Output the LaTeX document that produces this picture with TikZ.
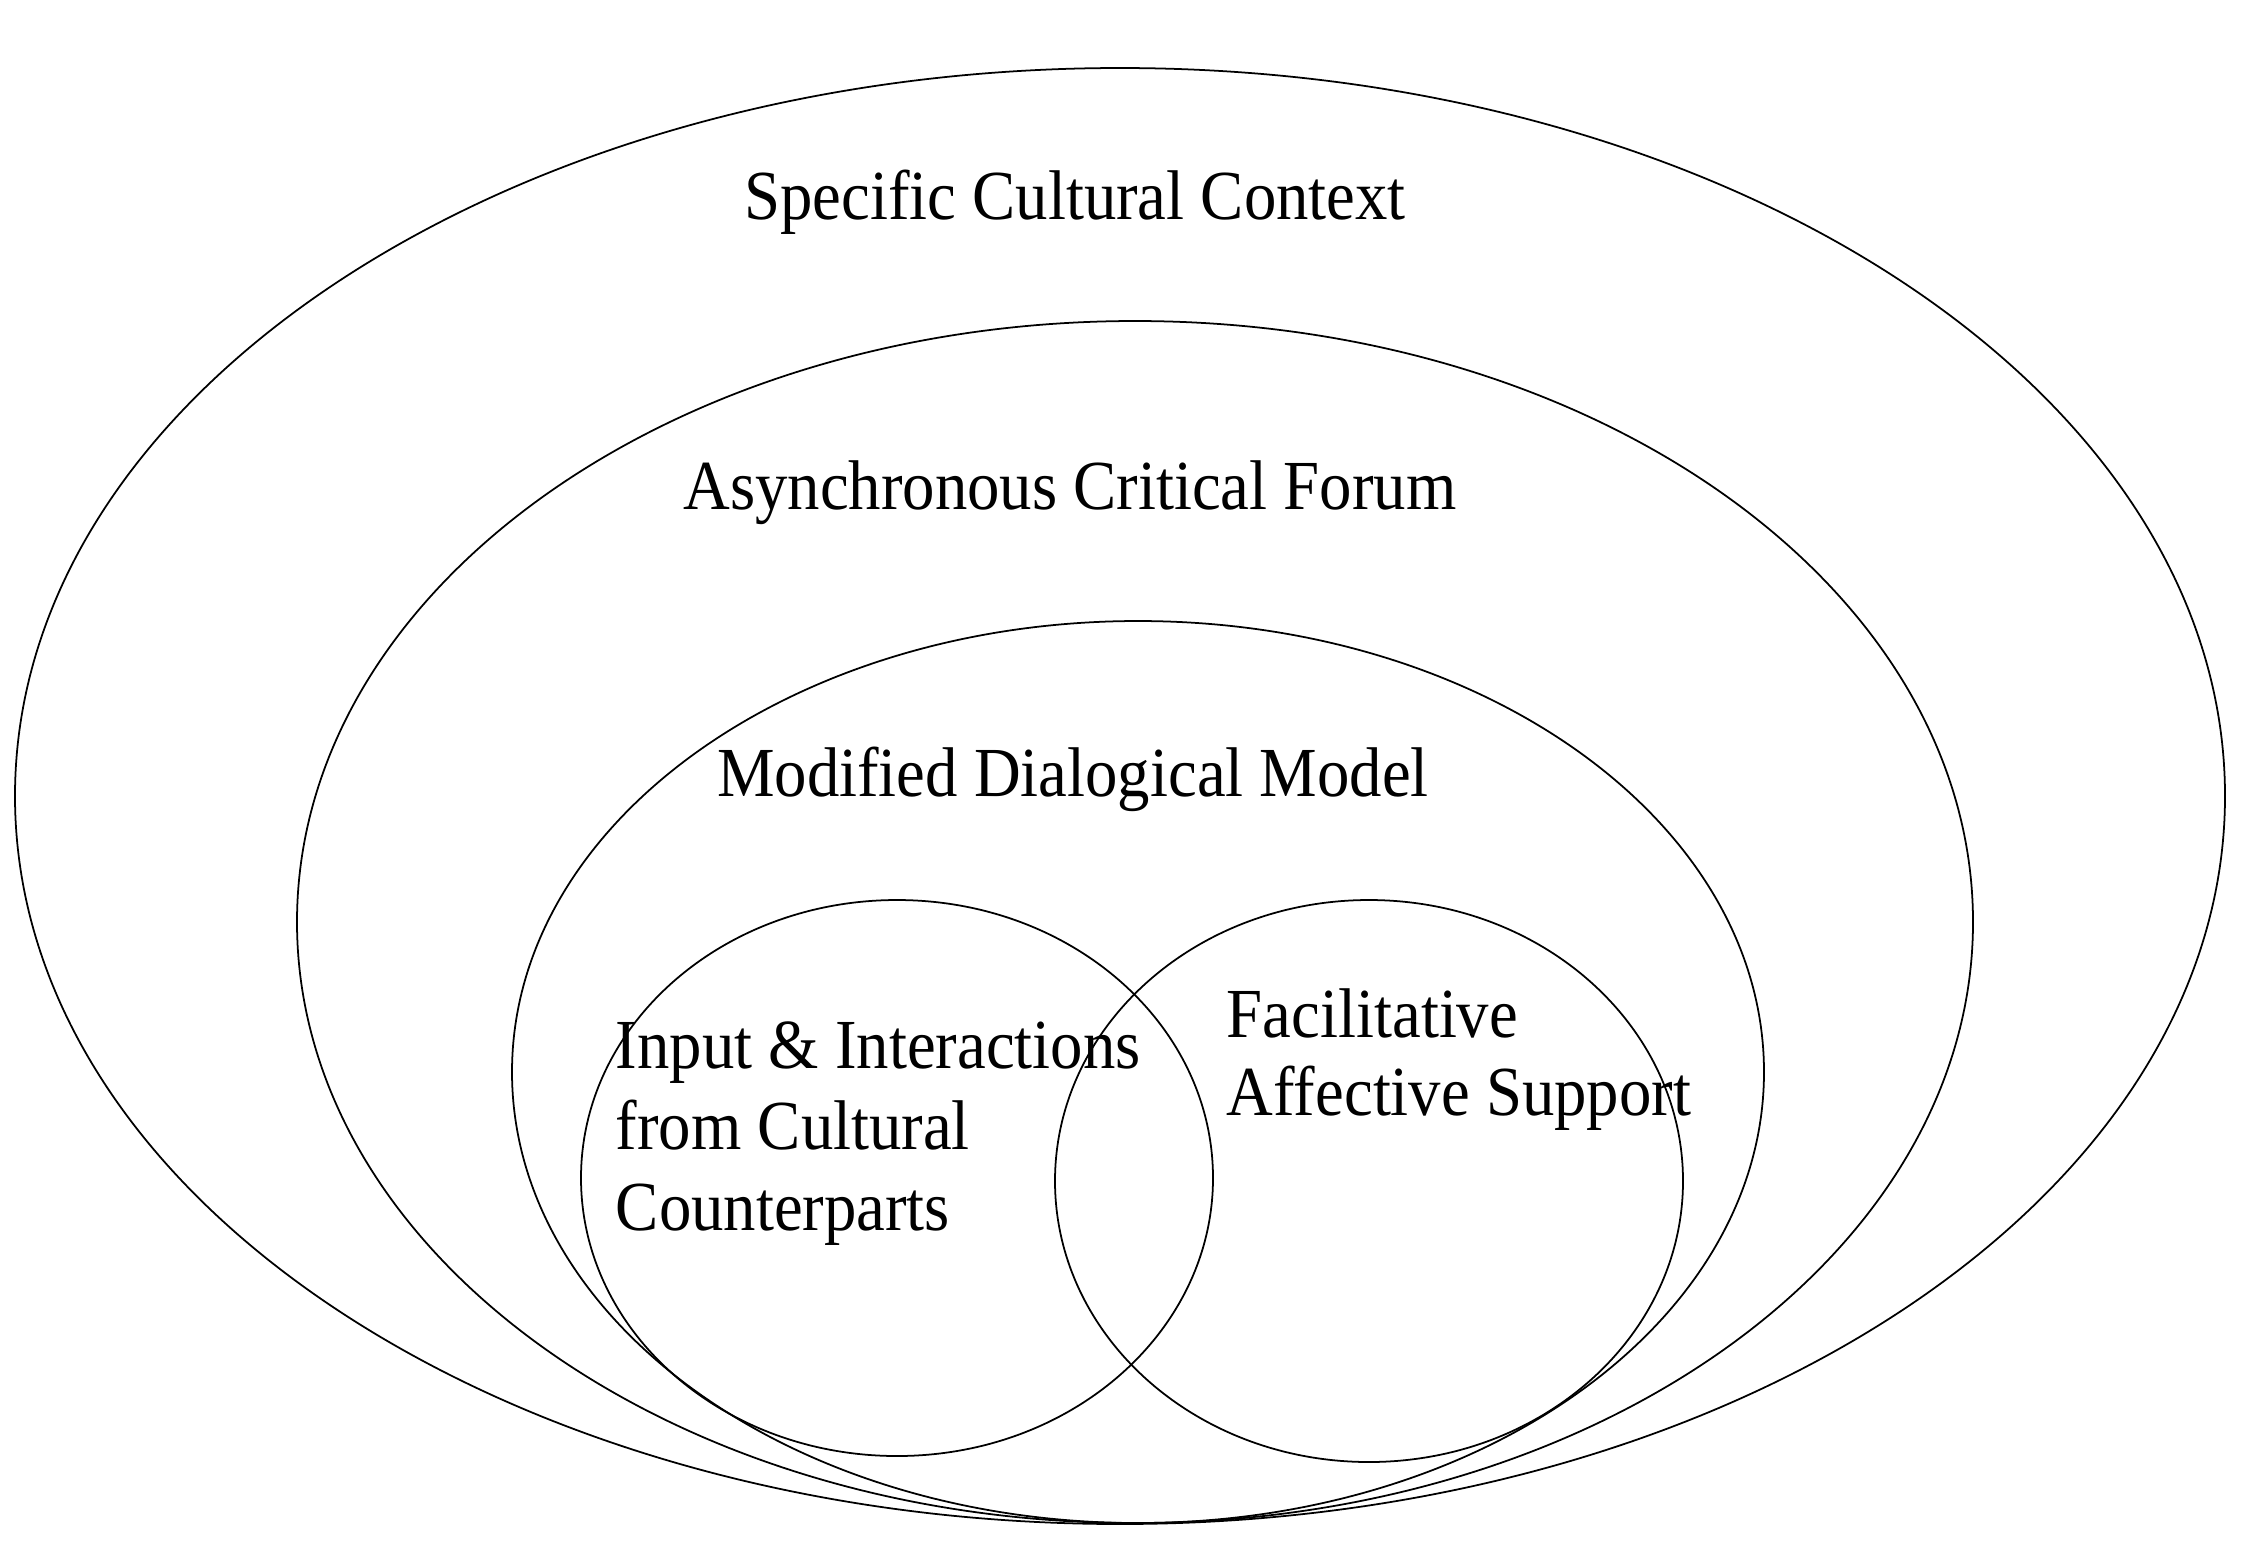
\documentclass[tikz,border=0pt]{standalone}
\usepackage{fontspec}
\setmainfont[FakeStretch=0.92]{Liberation Serif}
\begin{document}
\begin{tikzpicture}[x=0.01cm,y=-0.01cm,line width=0.5pt]
\useasboundingbox (0,0) rectangle (2248,1550);
\draw[] (1120,796) ellipse [x radius=1105, y radius=728];
\draw[] (1135,922) ellipse [x radius=838, y radius=601];
\draw[] (1138,1072) ellipse [x radius=626, y radius=451];
\draw[] (897,1178) ellipse [x radius=316, y radius=278];
\draw[] (1369,1181) ellipse [x radius=314, y radius=281];
\node[font=\fontsize{20}{23}\selectfont, anchor=base, inner sep=0] (ctx) at (1075,219){Specific Cultural Context};
\node[font=\fontsize{20}{23}\selectfont, anchor=base, inner sep=0] (forum) at (1070,509){Asynchronous Critical Forum};
\node[font=\fontsize{20}{23}\selectfont, anchor=base, inner sep=0] (model) at (1073,796){Modified Dialogical Model};
\node[font=\fontsize{20}{23}\selectfont, anchor=north west, align=left, inner sep=0] (input) at (615,1021){Input \& Interactions\\from Cultural\\Counterparts};
\node[font=\fontsize{20}{22}\selectfont, anchor=north west, align=left, inner sep=0] (support) at (1226,988){Facilitative\\Affective Support};
\end{tikzpicture}
\end{document}
